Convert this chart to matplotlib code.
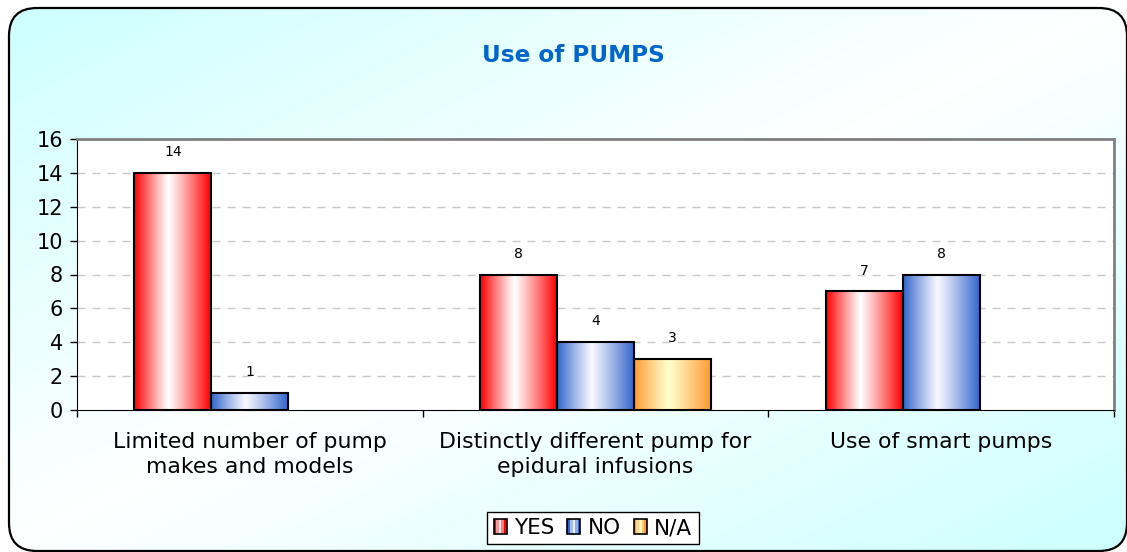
import numpy as np
import matplotlib
matplotlib.use('Agg')
import matplotlib.pyplot as plt
from matplotlib.patches import FancyBboxPatch, Rectangle
from matplotlib.legend_handler import HandlerBase

# ---------------- data ----------------
categories = ["Limited number of pump\nmakes and models",
              "Distinctly different pump for\nepidural infusions",
              "Use of smart pumps"]
series_names = ["YES", "NO", "N/A"]
yes_vals = [14, 8, 7]
no_vals = [1, 4, 8]
na_vals = [None, 3, None]
yticks = [0, 2, 4, 6, 8, 10, 12, 14, 16]
title = "Use of PUMPS"

# ---------------- style ----------------
W, H = 1127, 552
edge_cols = [np.array([255, 0, 0]) / 255, np.array([51, 102, 204]) / 255, np.array([255, 153, 51]) / 255]
center_cols = [np.array([255, 255, 255]) / 255, np.array([248, 248, 255]) / 255, np.array([255, 255, 204]) / 255]

fig = plt.figure(figsize=(W / 100, H / 100), dpi=100)
fig.patch.set_facecolor('white')

# background with rounded frame and diagonal gradient
bg = fig.add_axes([0, 0, 1, 1])
bg.set_axis_off()
xs = np.linspace(0, 1, 300)
ys = np.linspace(0, 1, 150)
X, Y = np.meshgrid(xs, ys)
d = np.abs((X + Y) / 2 - 0.5) * 2
cyan = np.array([0.80, 1.0, 1.0])
img = (1 - d)[..., None] * np.ones(3) + d[..., None] * cyan
im = bg.imshow(img, extent=(0, W, H, 0), aspect='auto', interpolation='bilinear')
frame = FancyBboxPatch((9, 8), 1118, 543, boxstyle="round,pad=0,rounding_size=28",
                       facecolor='none', edgecolor='black', linewidth=1.6, zorder=5)
bg.add_patch(frame)
im.set_clip_path(frame)
bg.set_xlim(0, W)
bg.set_ylim(H, 0)

# main axes
ax = fig.add_axes([77 / W, 1 - 410 / H, (1114 - 77) / W, (410 - 139) / H])
ax.set_facecolor('white')

def grad_array(edge, center, n=120):
    t = np.linspace(0, 1, n)
    c = 0.45
    f = np.where(t < c, (c - t) / c, (t - c) / (1 - c))
    f = f ** 1.1
    arr = center[None, :] * (1 - f[:, None]) + edge[None, :] * f[:, None]
    return arr[None, :, :]

x = np.arange(len(categories))
w = 0.2225
series = [yes_vals, no_vals, na_vals]
for si, vals in enumerate(series):
    offs = (si - 1) * w
    for ci, v in enumerate(vals):
        if v is None:
            continue
        xc = x[ci] + offs
        rect = ax.bar(xc, v, width=w, facecolor='none', edgecolor='black',
                      linewidth=1.5, zorder=4)[0]
        gim = ax.imshow(grad_array(edge_cols[si], center_cols[si]),
                        extent=(xc - w / 2, xc + w / 2, 0, v), aspect='auto',
                        interpolation='bilinear', zorder=3)
        gim.set_clip_path(rect)
        ax.annotate(str(v), (xc, v), xytext=(0, 15), textcoords='offset points',
                    ha='center', va='center', fontsize=10, color='black')

ax.set_xlim(-0.5, len(categories) - 0.5)
ax.set_ylim(0, 16)
ax.set_yticks(yticks)
ax.tick_params(axis='y', labelsize=15, length=5, width=1, pad=5, direction='out')
ax.set_xticks(x)
ax.set_xticklabels(categories, fontsize=15.8, linespacing=1.3)
ax.tick_params(axis='x', which='major', length=0, pad=16)
ax.set_xticks([-0.5, 0.5, 1.5, 2.5], minor=True)
ax.tick_params(axis='x', which='minor', length=5, width=1, direction='out')
for yv in yticks[1:-1]:
    ax.axhline(yv, color='#c8c8c8', linewidth=1, linestyle=(0, (5.8, 5)), zorder=1)

ax.spines['top'].set_color('#808080')
ax.spines['top'].set_linewidth(2)
ax.spines['right'].set_color('#808080')
ax.spines['right'].set_linewidth(2)
ax.spines['left'].set_color('black')
ax.spines['bottom'].set_color('black')

fig.text(573 / W, 1 - 55 / H, title, color='#0066CC', fontweight='bold',
         fontsize=16.7, ha='center', va='center')

# legend with gradient squares
class GradHandler(HandlerBase):
    def __init__(self, edge, center):
        super().__init__()
        self.edge = edge
        self.center = center
    def create_artists(self, legend, orig_handle, xdescent, ydescent, width, height, fontsize, trans):
        arts = []
        n = 5
        cols = grad_array(self.edge, self.center, n)[0]
        for i in range(n):
            arts.append(Rectangle((-xdescent + i * width / n, -ydescent), width / n, height,
                                  facecolor=cols[i], edgecolor='none', transform=trans))
        arts.append(Rectangle((-xdescent, -ydescent), width, height, facecolor='none',
                              edgecolor='black', linewidth=1.2, transform=trans))
        return arts

handles = [Rectangle((0, 0), 1, 1) for _ in series_names]
hmap = {h: GradHandler(edge_cols[i], center_cols[i]) for i, h in enumerate(handles)}
leg = fig.legend(handles, series_names, handler_map=hmap, loc='center',
                 bbox_to_anchor=(593 / W, 1 - 528 / H), ncol=3, fontsize=15.5,
                 frameon=True, fancybox=False, edgecolor='black', facecolor='white',
                 framealpha=1, handlelength=0.6, handleheight=0.7, handletextpad=0.35,
                 columnspacing=0.6, borderpad=0.3, borderaxespad=0)
leg.get_frame().set_linewidth(1)

fig.savefig('out.png', dpi=100)
